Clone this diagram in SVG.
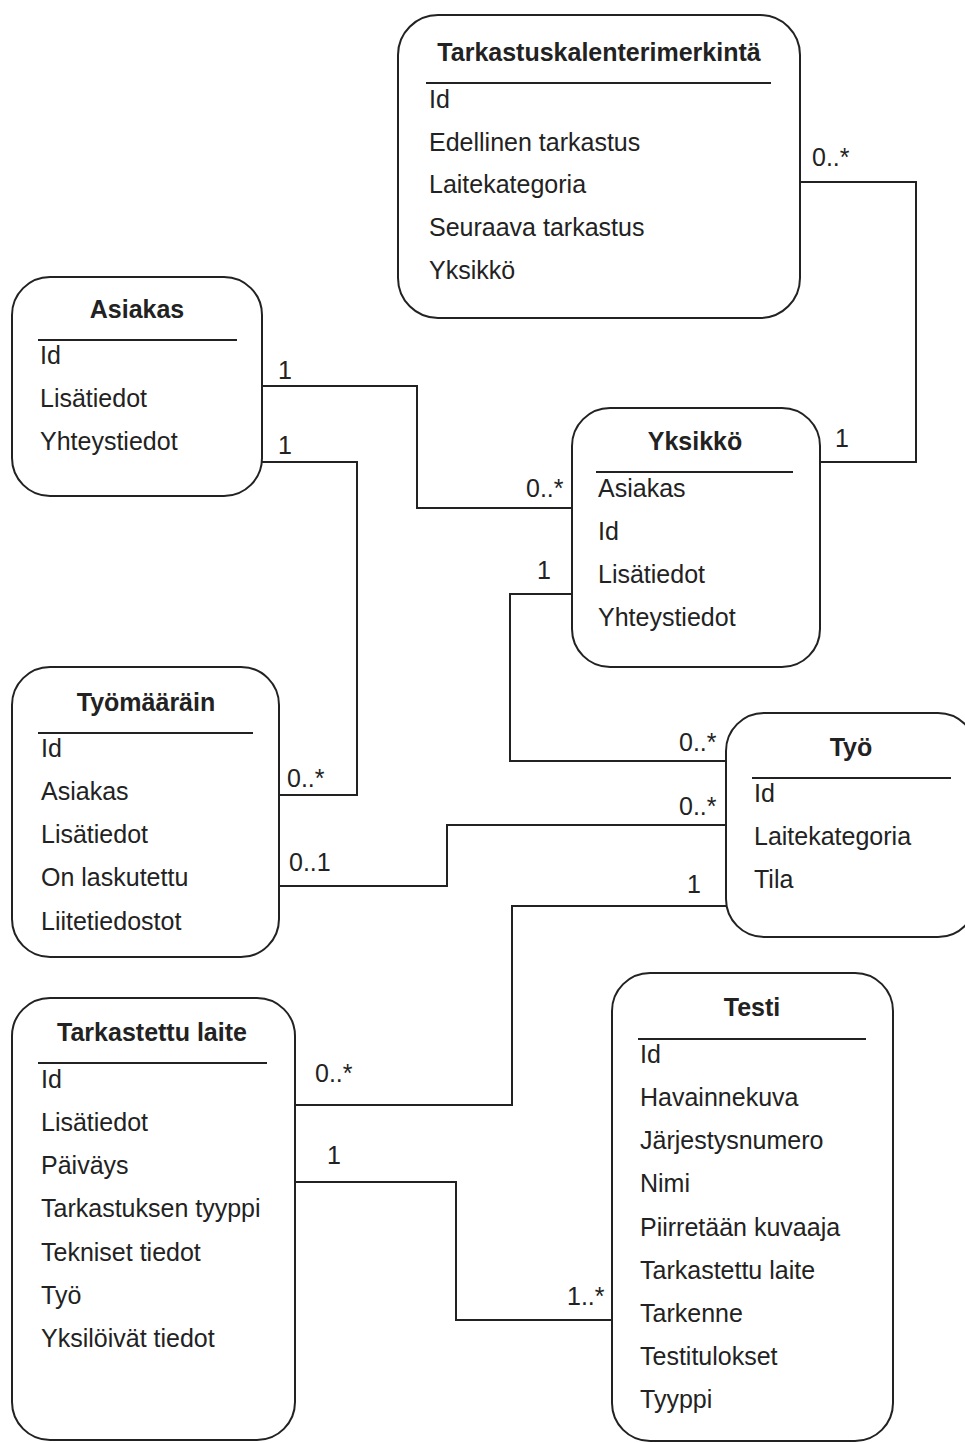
<svg xmlns="http://www.w3.org/2000/svg" width="965" height="1443" viewBox="0 0 965 1443">
<style>
.box{fill:#fff;stroke:#222;stroke-width:2}
.sep{stroke:#222;stroke-width:2}
.t{font-family:"Liberation Sans",Arial,sans-serif;font-size:25px;fill:#222}
.h{font-family:"Liberation Sans",Arial,sans-serif;font-size:25px;font-weight:bold;fill:#222;text-anchor:middle}
.c{fill:none;stroke:#222;stroke-width:2}
</style>
<rect width="965" height="1443" fill="#fff"/>
<g id="connectors">
<polyline class="c" points="800,182 916,182 916,462 820,462"/>
<polyline class="c" points="262,386 417,386 417,508 572,508"/>
<polyline class="c" points="262,462 357,462 357,795 279,795"/>
<polyline class="c" points="572,594 510,594 510,761 726,761"/>
<polyline class="c" points="279,886 447,886 447,825 726,825"/>
<polyline class="c" points="726,906 512,906 512,1105 295,1105"/>
<polyline class="c" points="295,1182 456,1182 456,1320 612,1320"/>
<text class="t" x="812" y="166">0..*</text>
<text class="t" x="835" y="447">1</text>
<text class="t" x="278" y="379">1</text>
<text class="t" x="526" y="497">0..*</text>
<text class="t" x="278" y="454">1</text>
<text class="t" x="287" y="787">0..*</text>
<text class="t" x="537" y="579">1</text>
<text class="t" x="679" y="751">0..*</text>
<text class="t" x="289" y="871">0..1</text>
<text class="t" x="679" y="815">0..*</text>
<text class="t" x="687" y="893">1</text>
<text class="t" x="315" y="1082">0..*</text>
<text class="t" x="327" y="1164">1</text>
<text class="t" x="567" y="1305">1..*</text>
</g>
<g id="tarkastuskalenterimerkinta">
<rect class="box" x="398" y="15" width="402" height="303" rx="40"/>
<text class="h" x="599" y="61">Tarkastuskalenterimerkintä</text>
<line class="sep" x1="426" y1="83" x2="771" y2="83"/>
<text class="t" x="429" y="108">Id</text>
<text class="t" x="429" y="151">Edellinen tarkastus</text>
<text class="t" x="429" y="193">Laitekategoria</text>
<text class="t" x="429" y="236">Seuraava tarkastus</text>
<text class="t" x="429" y="279">Yksikkö</text>
</g>
<g id="asiakas">
<rect class="box" x="12" y="277" width="250" height="219" rx="38"/>
<text class="h" x="137" y="318">Asiakas</text>
<line class="sep" x1="38" y1="340" x2="237" y2="340"/>
<text class="t" x="40" y="364">Id</text>
<text class="t" x="40" y="407">Lisätiedot</text>
<text class="t" x="40" y="450">Yhteystiedot</text>
</g>
<g id="yksikko">
<rect class="box" x="572" y="408" width="248" height="259" rx="38"/>
<text class="h" x="695" y="450">Yksikkö</text>
<line class="sep" x1="596" y1="472" x2="793" y2="472"/>
<text class="t" x="598" y="497">Asiakas</text>
<text class="t" x="598" y="540">Id</text>
<text class="t" x="598" y="583">Lisätiedot</text>
<text class="t" x="598" y="626">Yhteystiedot</text>
</g>
<g id="tyomaarain">
<rect class="box" x="12" y="667" width="267" height="290" rx="38"/>
<text class="h" x="146" y="711">Työmääräin</text>
<line class="sep" x1="38" y1="733" x2="253" y2="733"/>
<text class="t" x="41" y="757">Id</text>
<text class="t" x="41" y="800">Asiakas</text>
<text class="t" x="41" y="843">Lisätiedot</text>
<text class="t" x="41" y="886">On laskutettu</text>
<text class="t" x="41" y="930">Liitetiedostot</text>
</g>
<g id="tyo">
<rect class="box" x="726" y="713" width="250" height="224" rx="38"/>
<text class="h" x="851" y="756">Työ</text>
<line class="sep" x1="752" y1="778" x2="951" y2="778"/>
<text class="t" x="754" y="802">Id</text>
<text class="t" x="754" y="845">Laitekategoria</text>
<text class="t" x="754" y="888">Tila</text>
</g>
<g id="tarkastettu-laite">
<rect class="box" x="12" y="998" width="283" height="442" rx="38"/>
<text class="h" x="152" y="1041">Tarkastettu laite</text>
<line class="sep" x1="38" y1="1063" x2="267" y2="1063"/>
<text class="t" x="41" y="1088">Id</text>
<text class="t" x="41" y="1131">Lisätiedot</text>
<text class="t" x="41" y="1174">Päiväys</text>
<text class="t" x="41" y="1217">Tarkastuksen tyyppi</text>
<text class="t" x="41" y="1261">Tekniset tiedot</text>
<text class="t" x="41" y="1304">Työ</text>
<text class="t" x="41" y="1347">Yksilöivät tiedot</text>
</g>
<g id="testi">
<rect class="box" x="612" y="973" width="281" height="468" rx="38"/>
<text class="h" x="752" y="1016">Testi</text>
<line class="sep" x1="638" y1="1039" x2="866" y2="1039"/>
<text class="t" x="640" y="1063">Id</text>
<text class="t" x="640" y="1106">Havainnekuva</text>
<text class="t" x="640" y="1149">Järjestysnumero</text>
<text class="t" x="640" y="1192">Nimi</text>
<text class="t" x="640" y="1236">Piirretään kuvaaja</text>
<text class="t" x="640" y="1279">Tarkastettu laite</text>
<text class="t" x="640" y="1322">Tarkenne</text>
<text class="t" x="640" y="1365">Testitulokset</text>
<text class="t" x="640" y="1408">Tyyppi</text>
</g>
</svg>
